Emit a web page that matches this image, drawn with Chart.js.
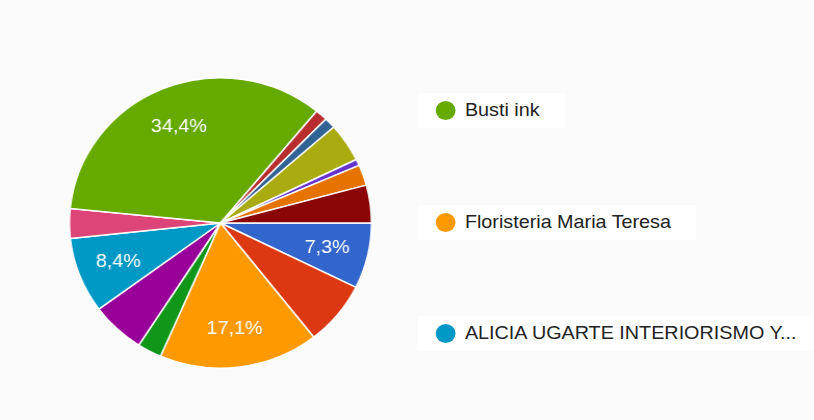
<!DOCTYPE html>
<html>
<head>
<meta charset="utf-8">
<script src="https://cdn.jsdelivr.net/npm/chart.js@4"></script>
<style>
  html, body { margin: 0; padding: 0; background: #fbfbfb; width: 814px; height: 420px; overflow: hidden; }
  /* the whole drawing is widened slightly on the x axis */
  #stage { position: absolute; left: 0; top: 0; width: 783px; height: 420px; transform: scaleX(1.04); transform-origin: 0 0; }
  #pie { position: absolute; left: 0; top: 0; }
  .item { position: absolute; left: 402px; height: 34px; padding: 0 24px 0 17px; background: #fff;
          display: flex; align-items: center; white-space: nowrap;
          font: 19px "Liberation Sans", Arial, sans-serif; color: #222; }
  .dot { width: 19px; height: 19px; border-radius: 50%; margin-right: 9px; flex: none; }
</style>
</head>
<body>
<div id="stage">
  <canvas id="pie" width="783" height="420"></canvas>
  <div id="legend"></div>
</div>
<script>
// Answers, in drawing order (clockwise from 3 o'clock)
const categories = [
  'Opción 1', 'Opción 2', 'Floristeria Maria Teresa', 'Opción 4', 'Opción 5',
  'ALICIA UGARTE INTERIORISMO Y...', 'Opción 7', 'Busti ink', 'Opción 9', 'Opción 10',
  'Opción 11', 'Opción 12', 'Opción 13', 'Opción 14'
];
// Share of responses, in percent
const shares = [7.3, 7.1, 17.1, 2.6, 5.8, 8.4, 3.3, 34.4, 1.3, 1.2, 4.3, 0.7, 2.3, 4.2];
const sliceColors = [
  '#3366cc', '#dc3912', '#ff9900', '#109618', '#990099', '#0099c6', '#dd4477',
  '#66aa00', '#b82e2e', '#316395', '#aaaa11', '#6633cc', '#e67300', '#8b0707'
];
// slices at least this large get a percentage written on them
const LABEL_MIN = 7.3;
// number of entries shown in the legend (largest first)
const LEGEND_COUNT = 3;

const total = shares.reduce((a, b) => a + b, 0);
const fmtPct = v => (v / total * 100).toFixed(1).replace('.', ',') + '%';

const sliceLabels = {
  id: 'sliceLabels',
  afterDatasetsDraw(chart) {
    const { ctx } = chart;
    const meta = chart.getDatasetMeta(0);
    ctx.save();
    ctx.font = '19px "Liberation Sans", Arial, sans-serif';
    ctx.fillStyle = '#ffffff';
    ctx.textAlign = 'center';
    ctx.textBaseline = 'middle';
    meta.data.forEach((arc, i) => {
      const v = chart.data.datasets[0].data[i];
      if (v < LABEL_MIN) return;
      const p = arc.getProps(['x', 'y', 'startAngle', 'endAngle', 'outerRadius'], true);
      const mid = (p.startAngle + p.endAngle) / 2;
      const r = p.outerRadius * 0.725;
      ctx.fillText(fmtPct(v), p.x + Math.cos(mid) * r, p.y + Math.sin(mid) * r + 1);
    });
    ctx.restore();
  }
};

new Chart(document.getElementById('pie'), {
  type: 'pie',
  data: {
    labels: categories,
    datasets: [{
      data: shares,
      backgroundColor: sliceColors,
      borderColor: '#ffffff',
      borderWidth: 1.5
    }]
  },
  options: {
    responsive: false,
    animation: false,
    devicePixelRatio: 1,
    rotation: 90,
    layout: { padding: { left: 66, top: 77, right: 425, bottom: 51 } },
    plugins: { legend: { display: false }, tooltip: { enabled: false } }
  },
  plugins: [sliceLabels]
});

// Legend: largest answers first, spread down the right side
const legendTops = [93, 205, 316];
const order = shares.map((v, i) => i).sort((a, b) => shares[b] - shares[a]).slice(0, LEGEND_COUNT);
const legend = document.getElementById('legend');
order.forEach((idx, k) => {
  const item = document.createElement('div');
  item.className = 'item';
  item.style.top = legendTops[k] + 'px';
  const dot = document.createElement('span');
  dot.className = 'dot';
  dot.style.background = sliceColors[idx];
  const txt = document.createElement('span');
  txt.textContent = categories[idx];
  item.appendChild(dot);
  item.appendChild(txt);
  legend.appendChild(item);
});
</script>
</body>
</html>
